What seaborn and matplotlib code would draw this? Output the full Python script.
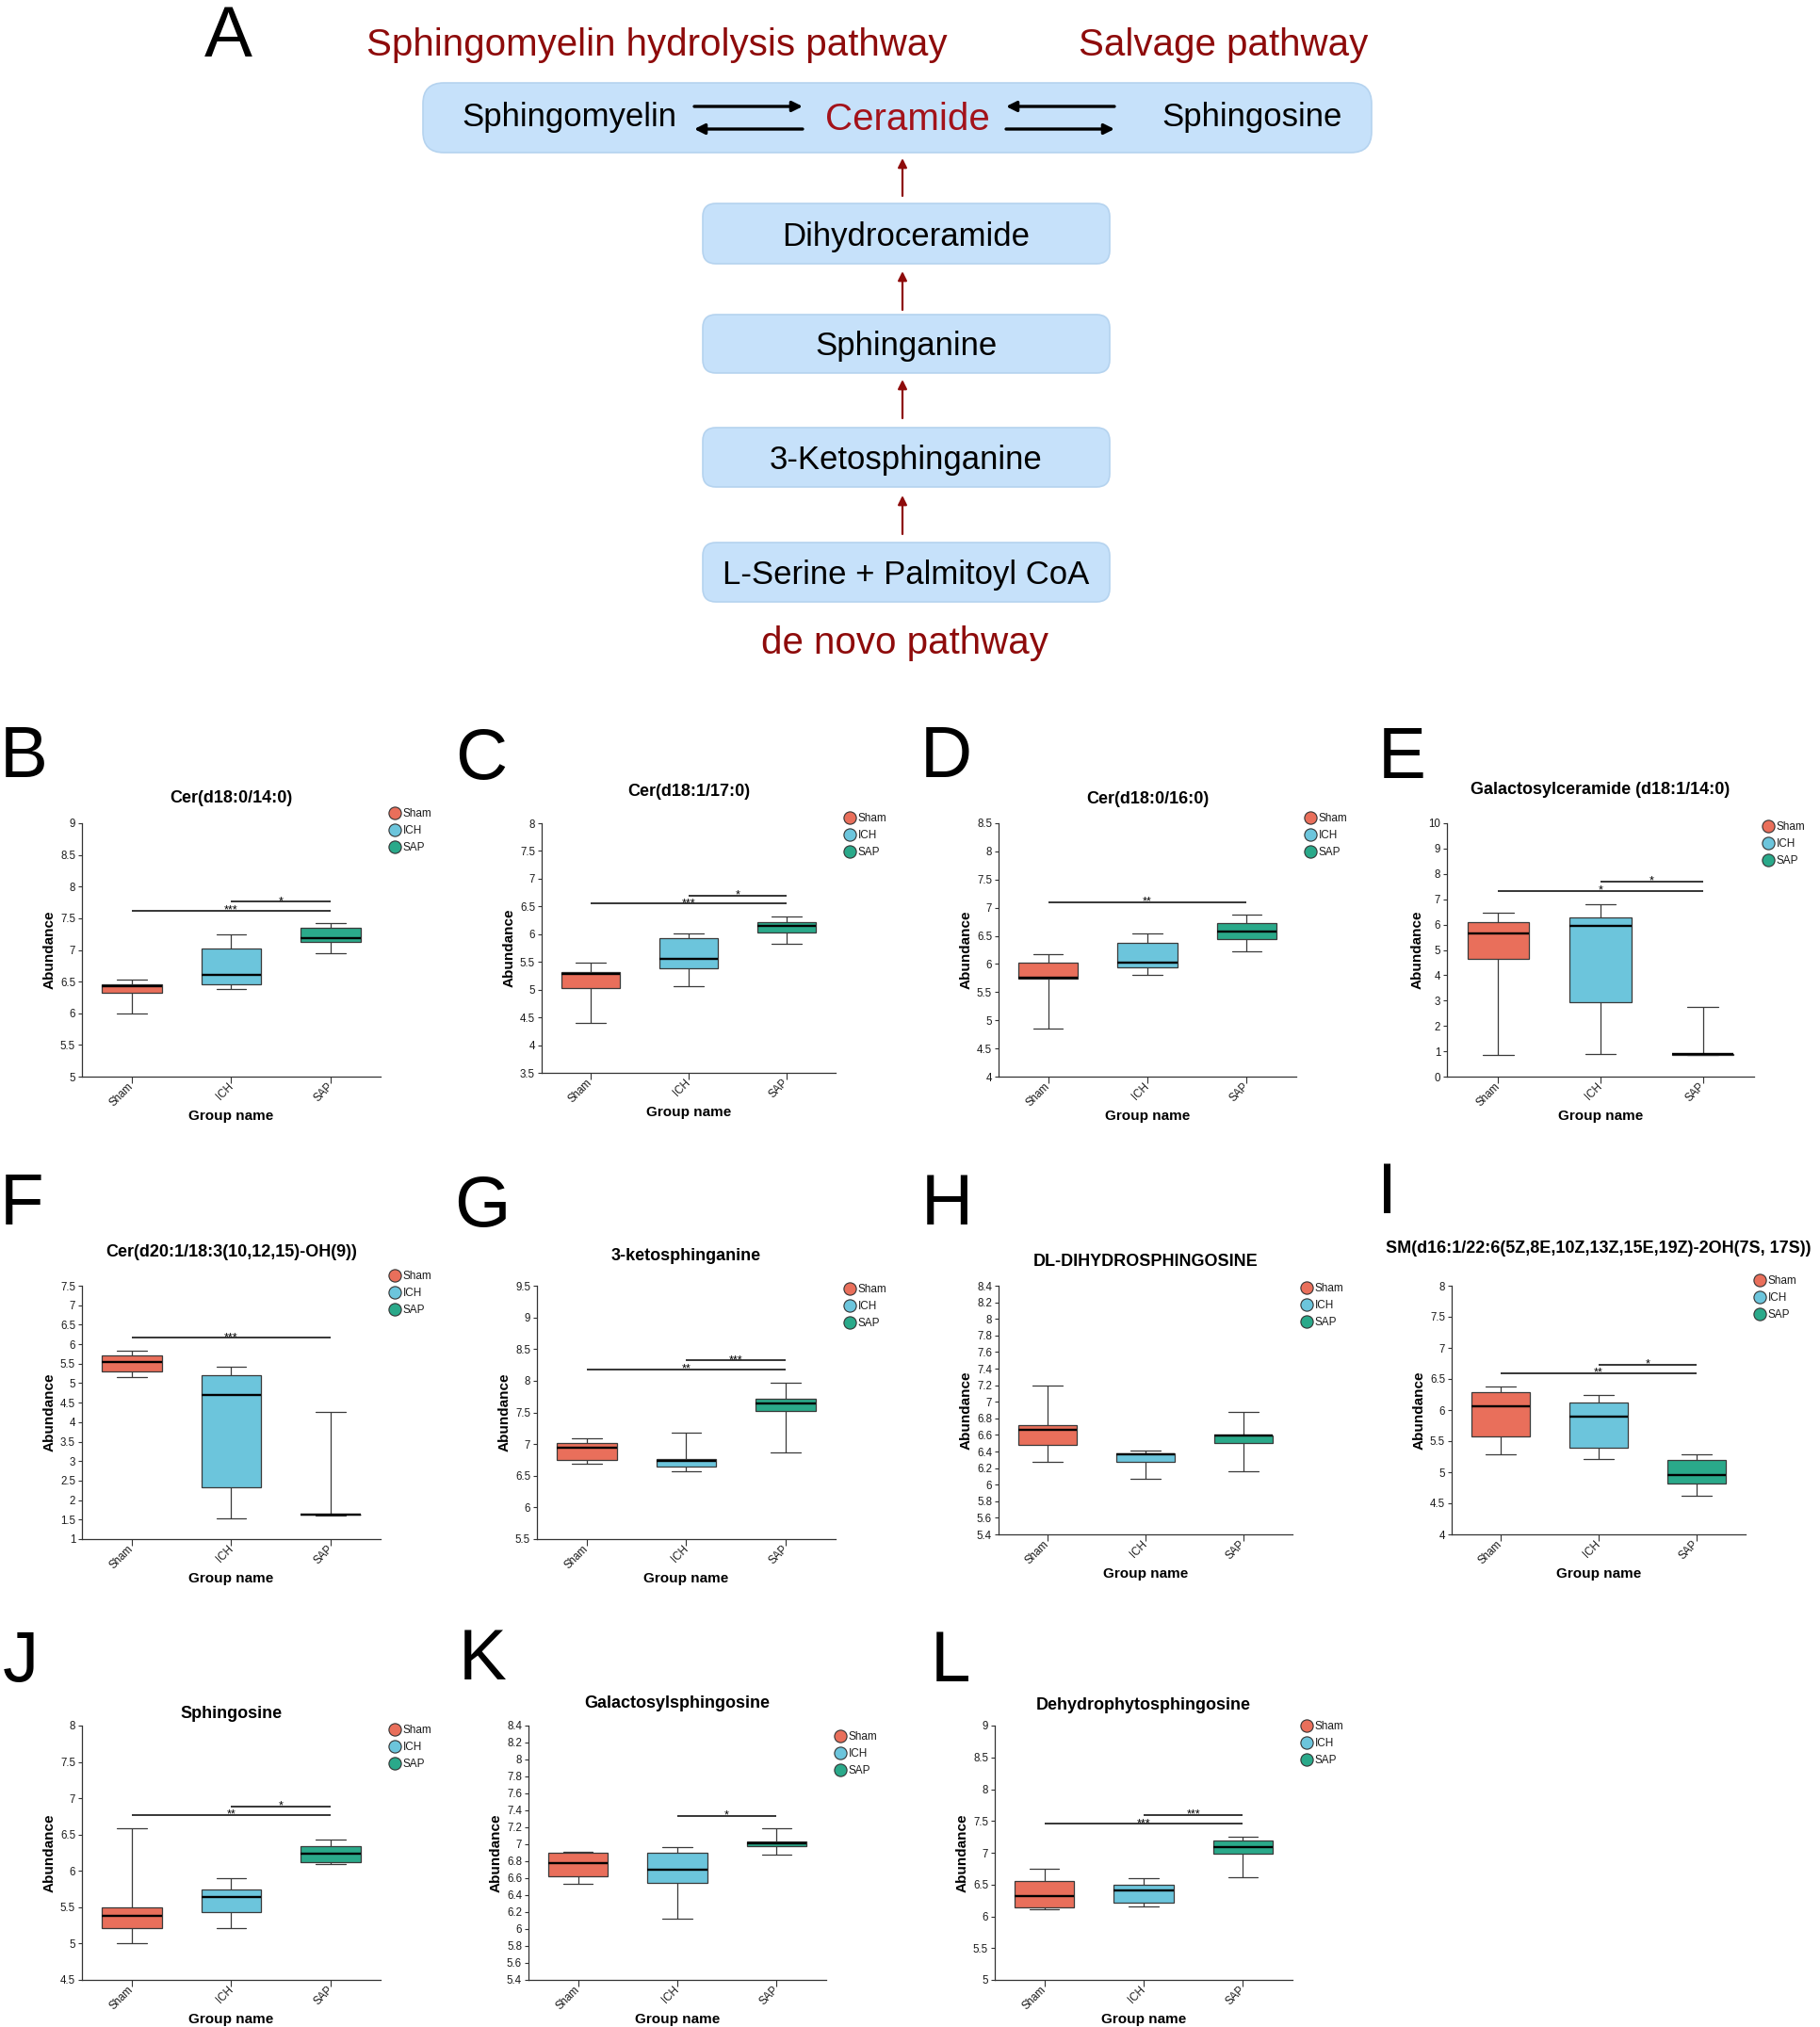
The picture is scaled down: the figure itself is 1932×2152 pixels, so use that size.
import numpy as np
import pandas as pd
import matplotlib
matplotlib.use("Agg")
import matplotlib.pyplot as plt
from matplotlib.patches import FancyBboxPatch, FancyArrowPatch
from matplotlib.lines import Line2D
from matplotlib.ticker import FuncFormatter
import seaborn as sns

sns.set_style("ticks")
plt.rcParams["font.family"] = ["Liberation Sans", "DejaVu Sans"]

W, H = 1933, 2152

groups = ["Sham", "ICH", "SAP"]
group_colors = ["#e96f5b", "#6cc5dc", "#2aa98a"]

# five-number summaries: [whisker low, Q1, median, Q3, whisker high]
cer_d18_0_14_0 = [[6.00, 6.33, 6.43, 6.455, 6.525],
                  [6.38, 6.46, 6.61, 7.025, 7.24],
                  [6.955, 7.12, 7.18, 7.35, 7.43]]
cer_d18_1_17_0 = [[4.40, 5.02, 5.29, 5.32, 5.49],
                  [5.06, 5.39, 5.56, 5.92, 6.01],
                  [5.83, 6.03, 6.15, 6.21, 6.32]]
cer_d18_0_16_0 = [[4.86, 5.74, 5.76, 6.02, 6.17],
                  [5.81, 5.94, 6.02, 6.37, 6.54],
                  [6.23, 6.44, 6.57, 6.73, 6.87]]
galcer_d18_1_14_0 = [[0.85, 4.64, 5.64, 6.08, 6.45],
                     [0.89, 2.93, 5.94, 6.29, 6.82],
                     [0.87, 0.87, 0.89, 0.89, 2.76]]
cer_d20_1_18_3 = [[5.15, 5.31, 5.54, 5.70, 5.83],
                  [1.52, 2.34, 4.69, 5.20, 5.42],
                  [1.61, 1.62, 1.64, 1.64, 4.27]]
ketosphinganine = [[6.69, 6.75, 6.94, 7.015, 7.09],
                   [6.57, 6.64, 6.73, 6.765, 7.18],
                   [6.87, 7.515, 7.64, 7.71, 7.975]]
dihydrosphingosine = [[6.28, 6.474, 6.667, 6.716, 7.19],
                      [6.069, 6.277, 6.37, 6.376, 6.406],
                      [6.156, 6.50, 6.59, 6.595, 6.875]]
sm_d16_1_22_6 = [[5.29, 5.574, 6.068, 6.295, 6.386],
                 [5.216, 5.39, 5.89, 6.118, 6.235],
                 [4.62, 4.817, 4.958, 5.195, 5.286]]
sphingosine = [[5.01, 5.21, 5.384, 5.50, 6.588],
               [5.21, 5.427, 5.64, 5.748, 5.90],
               [6.094, 6.116, 6.233, 6.337, 6.436]]
galactosylsphingosine = [[6.532, 6.625, 6.781, 6.896, 6.915],
                         [6.124, 6.543, 6.696, 6.90, 6.97],
                         [6.874, 6.98, 7.015, 7.037, 7.186]]
dehydrophytosphingosine = [[6.104, 6.144, 6.312, 6.554, 6.747],
                           [6.149, 6.213, 6.406, 6.50, 6.599],
                           [6.609, 6.98, 7.094, 7.193, 7.248]]

panel_data = [cer_d18_0_14_0, cer_d18_1_17_0, cer_d18_0_16_0, galcer_d18_1_14_0,
              cer_d20_1_18_3, ketosphinganine, dihydrosphingosine, sm_d16_1_22_6,
              sphingosine, galactosylsphingosine, dehydrophytosphingosine]
panel_titles = ["Cer(d18:0/14:0)", "Cer(d18:1/17:0)", "Cer(d18:0/16:0)",
                "Galactosylceramide (d18:1/14:0)", "Cer(d20:1/18:3(10,12,15)-OH(9))",
                "3-ketosphinganine", "DL-DIHYDROSPHINGOSINE",
                "SM(d16:1/22:6(5Z,8E,10Z,13Z,15E,19Z)-2OH(7S, 17S))",
                "Sphingosine", "Galactosylsphingosine", "Dehydrophytosphingosine"]
panel_letters = list("BCDEFGHIJKL")
# y axis: (low, high, step)
panel_yaxis = [(5, 9, 0.5), (3.5, 8, 0.5), (4, 8.5, 0.5), (0, 10, 1), (1, 7.5, 0.5),
               (5.5, 9.5, 0.5), (5.4, 8.4, 0.2), (4, 8, 0.5), (4.5, 8, 0.5),
               (5.4, 8.4, 0.2), (5, 9, 0.5)]
# significance brackets: (from group, to group, level, stars)
panel_sig = [[(0, 2, 7.62, "***"), (1, 2, 7.76, "*")],
             [(0, 2, 6.55, "***"), (1, 2, 6.70, "*")],
             [(0, 2, 7.10, "**")],
             [(0, 2, 7.34, "*"), (1, 2, 7.69, "*")],
             [(0, 2, 6.16, "***")],
             [(0, 2, 8.18, "**"), (1, 2, 8.32, "***")],
             [],
             [(0, 2, 6.59, "**"), (1, 2, 6.73, "*")],
             [(0, 2, 6.77, "**"), (1, 2, 6.887, "*")],
             [(1, 2, 7.338, "*")],
             [(0, 2, 7.455, "***"), (1, 2, 7.594, "***")]]

# layout (pixels): axes box (left, top, right, bottom), title pad, legend offset, letter
axes_px = [(87, 874, 404, 1143), (575, 874, 887, 1139), (1060, 874, 1376, 1143),
           (1536, 874, 1862, 1143), (87, 1365, 404, 1634), (570, 1365, 887, 1634),
           (1060, 1365, 1372, 1629), (1541, 1365, 1853, 1629), (87, 1832, 404, 2102),
           (561, 1832, 877, 2102), (1056, 1832, 1372, 2102)]
title_pad_px = [22, 29, 21, 31, 31, 27, 21, 35, 8, 19, 17]
legend_dy_px = [8, 3, 3, -6, 8, -6, -5, 3, -7, -14, -3]
letter_px = [(0, 825), (483, 827), (977, 825), (1463, 826), (0, 1300), (482, 1302),
             (978, 1300), (1462, 1288), (3, 1785), (487, 1783), (988, 1785)]

fig = plt.figure(figsize=(W / 100, H / 100), dpi=100)

# ---------------- panel A: pathway diagram ----------------
dark_red = "#8e0b0b"
box_blue = "#c6e1fa"
diag = fig.add_axes([0, 0, 1, 1])
diag.set_xlim(0, W)
diag.set_ylim(H, 0)
diag.axis("off")


def add_box(x0, y0, x1, y1, rad):
    diag.add_patch(FancyBboxPatch((x0, y0), x1 - x0, y1 - y0,
                                  boxstyle=f"round,pad=0,rounding_size={rad}",
                                  facecolor=box_blue, edgecolor="#b5d3ef", lw=1.2))


def add_arrow(x0, y0, x1, y1, color, lw, scale):
    diag.add_patch(FancyArrowPatch((x0, y0), (x1, y1), arrowstyle="-|>",
                                   mutation_scale=scale, color=color, lw=lw,
                                   shrinkA=0, shrinkB=0))


diag.text(217, 60, "A", fontsize=55, va="baseline", ha="left", color="black")
diag.text(697, 59, "Sphingomyelin hydrolysis pathway", fontsize=29, color=dark_red,
          ha="center", va="baseline")
diag.text(1299, 59, "Salvage pathway", fontsize=29, color=dark_red,
          ha="center", va="baseline")

add_box(449, 88, 1456, 162, 22)
diag.text(604, 134, "Sphingomyelin", fontsize=25, ha="center", va="baseline", color="black")
diag.text(963, 138, "Ceramide", fontsize=29, color="#a3121a", ha="center", va="baseline")
diag.text(1329, 134, "Sphingosine", fontsize=25, ha="center", va="baseline", color="black")
add_arrow(737, 113, 852, 113, "black", 2.4, 16)
add_arrow(852, 137, 737, 137, "black", 2.4, 16)
add_arrow(1183, 113, 1068, 113, "black", 2.4, 16)
add_arrow(1068, 137, 1183, 137, "black", 2.4, 16)

steps = ["Dihydroceramide", "Sphinganine", "3-Ketosphinganine", "L-Serine + Palmitoyl CoA"]
step_rows = [(216, 280), (334, 396), (454, 517), (576, 639)]
arrow_rows = [(208, 168), (329, 288), (444, 403), (567, 526)]
for label, (y0, y1) in zip(steps, step_rows):
    add_box(746, y0, 1178, y1, 14)
    diag.text(962, (y0 + y1) / 2 + 12.5, label, fontsize=25, ha="center",
              va="baseline", color="black")
for y0, y1 in arrow_rows:
    add_arrow(958, y0, 958, y1, dark_red, 1.6, 14)
diag.text(960, 694, "de novo pathway", fontsize=29, color=dark_red,
          ha="center", va="baseline")

# ---------------- panels B-L: box plots ----------------
fmt = FuncFormatter(lambda v, p: f"{round(v, 1):g}")
handles = [Line2D([], [], marker="o", ls="none", markersize=9.5, markerfacecolor=c,
                  markeredgecolor="#333333", markeredgewidth=0.8) for c in group_colors]

for i, summaries in enumerate(panel_data):
    left, top, right, bottom = axes_px[i]
    ax = fig.add_axes([left / W, 1 - bottom / H, (right - left) / W, (bottom - top) / H])
    df = pd.DataFrame({
        "group": np.repeat(groups, 5),
        "value": np.concatenate(summaries),
    })
    sns.boxplot(data=df, x="group", y="value", hue="group", order=groups,
                hue_order=groups, palette=group_colors, saturation=1, width=0.6,
                whis=(0, 100), showfliers=False, linecolor="#3a3a3a", linewidth=0.9,
                medianprops={"color": "black", "linewidth": 1.7}, legend=False, ax=ax)

    lo, hi, step = panel_yaxis[i]
    ax.set_ylim(lo, hi)
    ax.set_yticks(np.arange(lo, hi + step / 2, step))
    ax.yaxis.set_major_formatter(fmt)
    ax.set_xlim(-0.5, 2.5)

    for g0, g1, level, stars in panel_sig[i]:
        ax.plot([g0, g1], [level, level], color="black", lw=1.1, solid_capstyle="butt")
        ax.annotate(stars, xy=((g0 + g1) / 2, level), xytext=(0, -2),
                    textcoords="offset points", ha="center", va="baseline",
                    fontsize=9, color="black")

    sns.despine(ax=ax)
    for s in ["left", "bottom"]:
        ax.spines[s].set_linewidth(0.9)
        ax.spines[s].set_color("#333333")
    ax.tick_params(axis="y", length=3, width=0.8, color="#333333", labelsize=8.3,
                   pad=2, labelcolor="#1a1a1a")
    ax.tick_params(axis="x", length=5, width=0.8, color="#333333", labelsize=8.3,
                   pad=1, labelcolor="#1a1a1a")
    for t in ax.get_xticklabels():
        t.set_rotation(45)
        t.set_ha("right")
        t.set_va("center")
        t.set_rotation_mode("anchor")

    ax.set_ylabel("Abundance", fontsize=11, fontweight="bold", labelpad=3, color="black")
    ax.set_xlabel("Group name", fontsize=11, fontweight="bold", labelpad=1, color="black")
    ax.set_title(panel_titles[i], fontsize=13, fontweight="bold", color="black",
                 pad=title_pad_px[i] * 0.72)

    aw, ah = right - left, bottom - top
    ax.legend(handles, groups, loc="upper left",
              bbox_to_anchor=(1 + 9 / aw, 1 + (legend_dy_px[i] + 8) / ah),
              frameon=False, fontsize=8.5, handlelength=1.0, handletextpad=0.25,
              labelspacing=0.5, borderpad=0, borderaxespad=0, labelcolor="#1a1a1a")

    lx, ly = letter_px[i]
    fig.text(lx / W, 1 - ly / H, panel_letters[i], fontsize=55, va="baseline",
             ha="left", color="black")

fig.savefig("out.png", dpi=100)
plt.close(fig)
